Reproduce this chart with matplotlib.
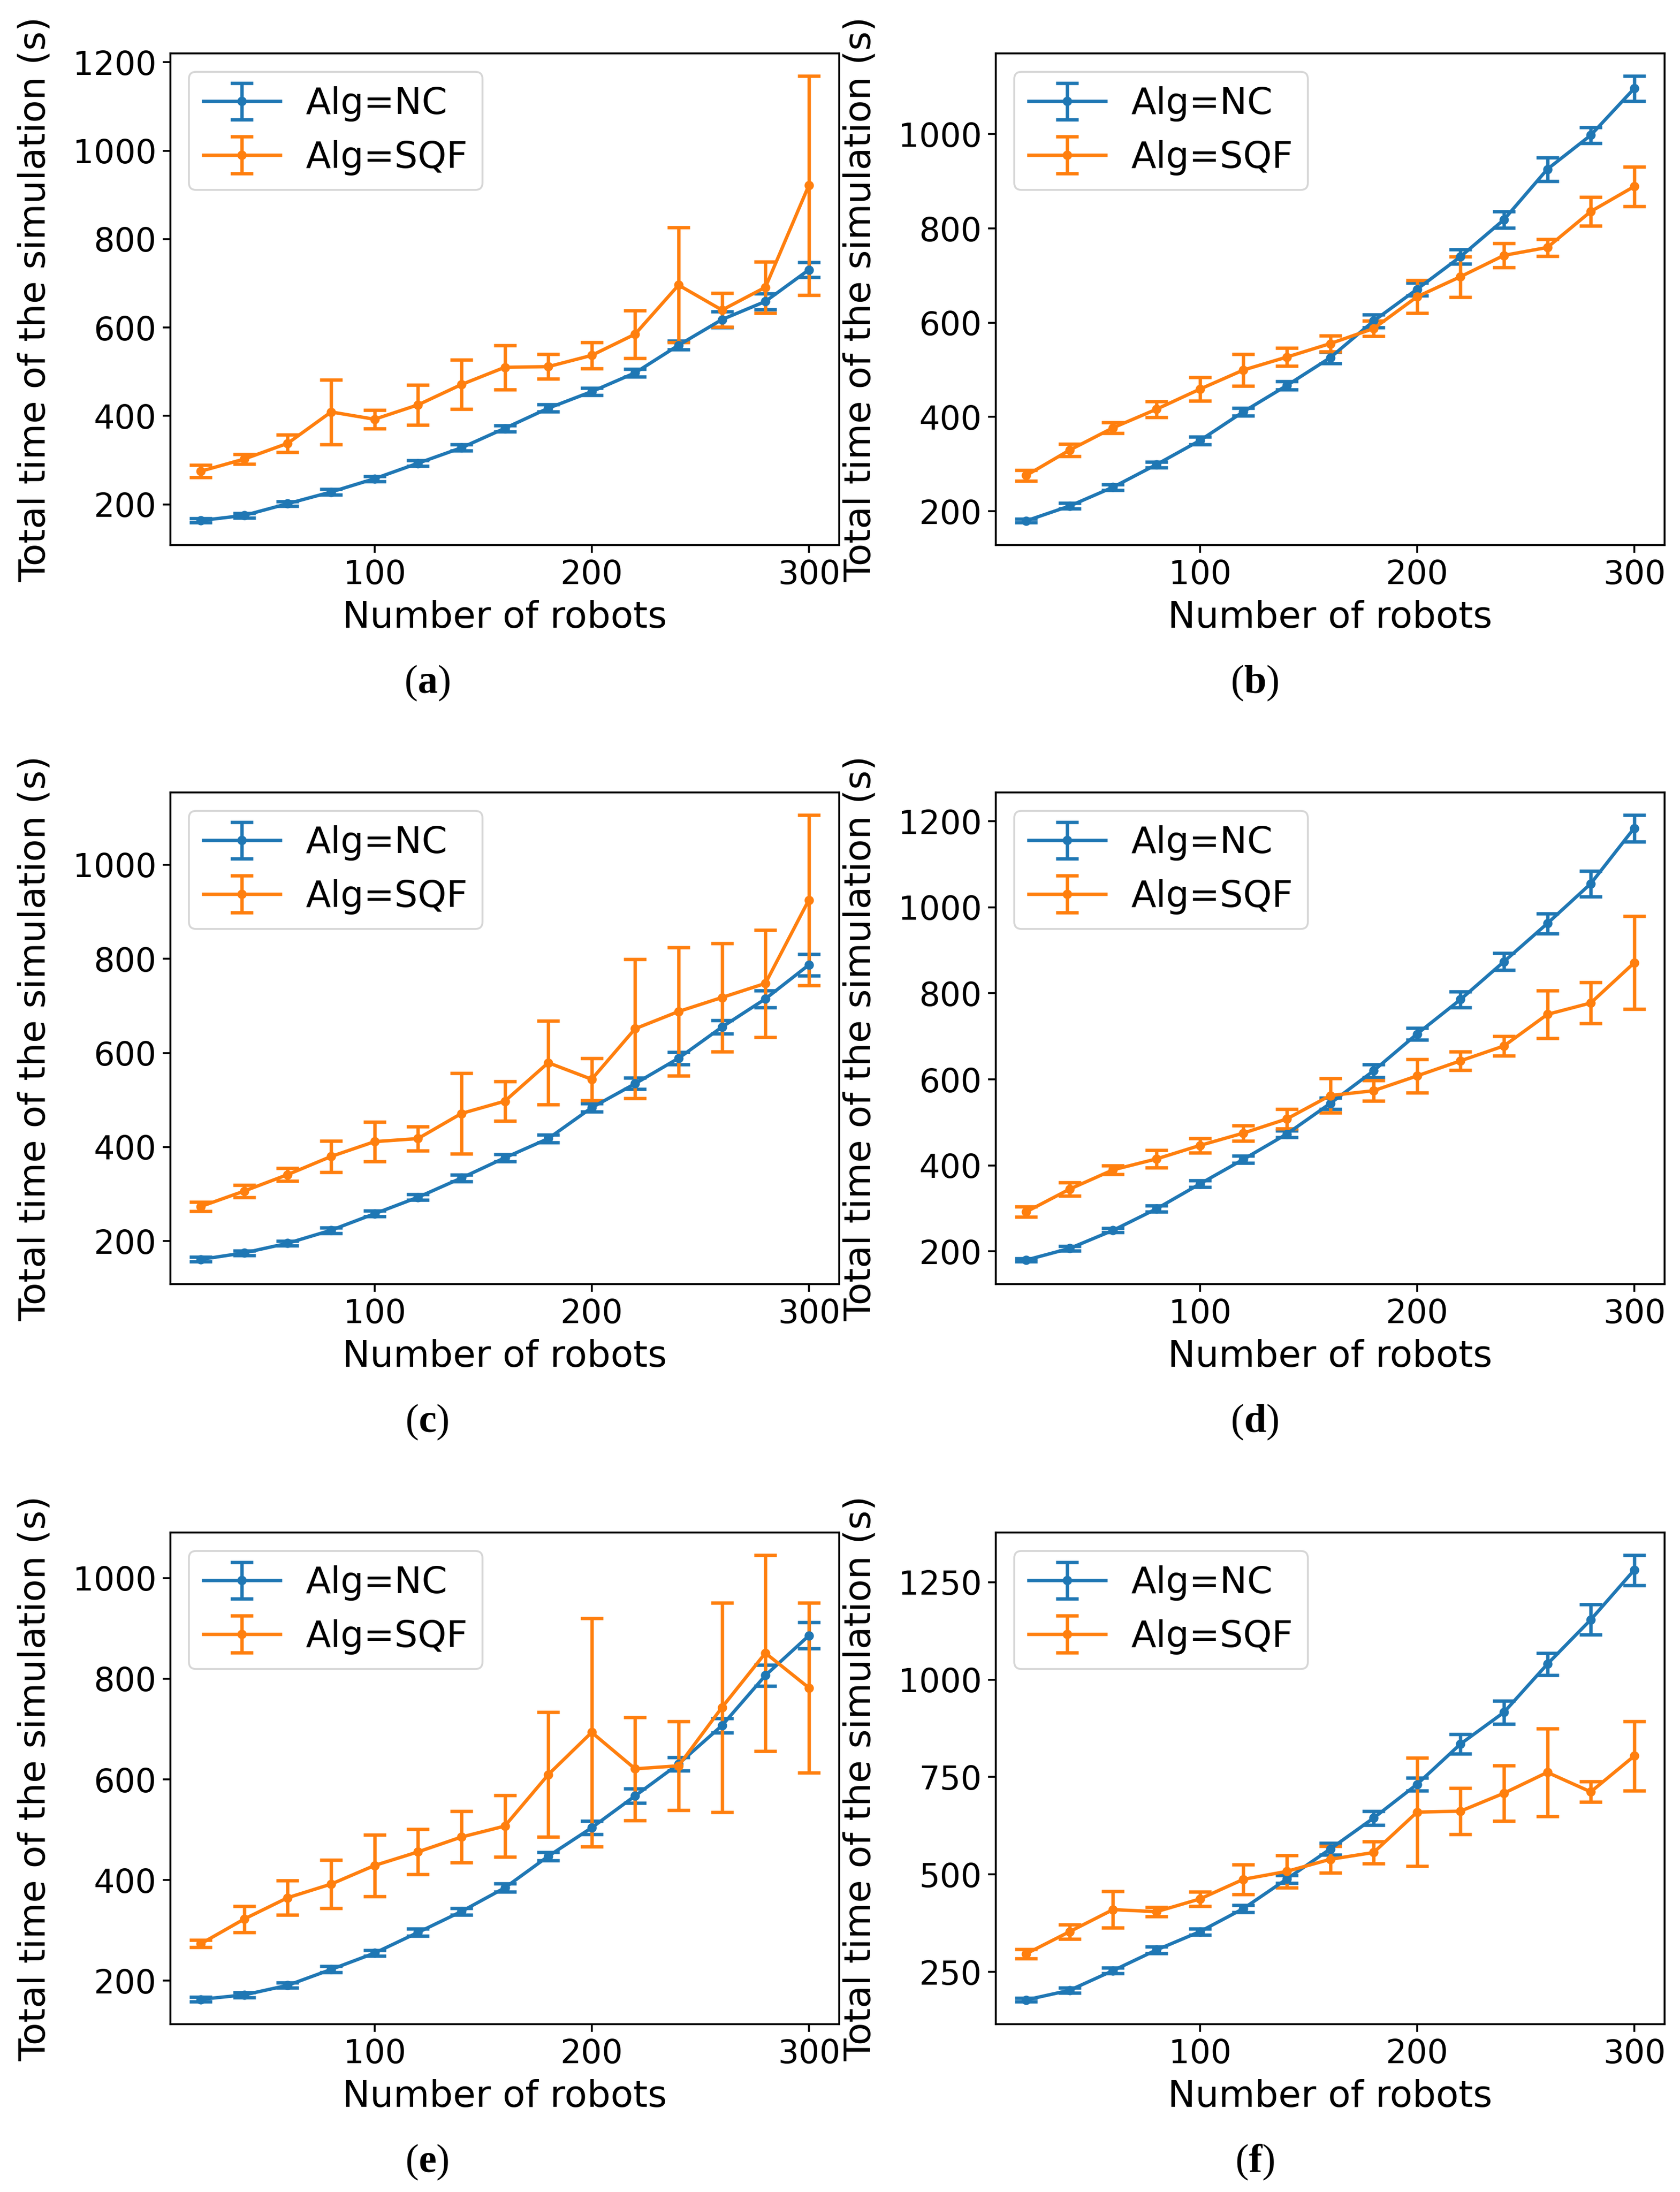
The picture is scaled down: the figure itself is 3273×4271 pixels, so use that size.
import matplotlib
matplotlib.use("Agg")
import matplotlib.pyplot as plt

x_robots = [20, 40, 60, 80, 100, 120, 140, 160, 180, 200, 220, 240, 260, 280, 300]

a_nc = [163.5, 175, 201.5, 228, 258, 293, 328, 372, 417.5, 455, 497.5, 560, 618, 659, 730.5]
a_nc_err = [5, 5, 5, 6, 6, 6, 7, 7, 8, 8, 9, 10, 18, 18, 17]
a_sqf = [275, 302.5, 338, 409, 392.5, 425, 471, 510, 511.5, 537, 585, 696, 639.5, 691, 921.5]
a_sqf_err = [14, 11, 20, 73, 21, 45, 56, 50, 28, 30, 54, 130, 38, 58, 248]

b_nc = [179.6, 211, 251, 299, 350, 411, 466.7, 525.7, 603.6, 671, 740, 818.6, 925.7, 997.8, 1097]
b_nc_err = [4, 6, 6, 6, 8, 8, 9, 12, 14, 14, 15, 17, 25, 17, 27]
b_sqf = [275.8, 329.7, 377, 416.4, 459, 499.5, 527, 555.6, 587.6, 655, 697.6, 742.8, 759.6, 836, 889]
b_sqf_err = [11, 13, 11, 17, 25, 34, 19, 17, 16, 35, 43, 26, 18, 31, 42]

c_nc = [161.3, 175.2, 195.6, 223.3, 258.3, 293.3, 334.2, 377.2, 418, 483.7, 534.7, 588.7, 655, 714.9, 787]
c_nc_err = [5, 5, 5, 6, 6, 6, 7, 8, 8, 9, 12, 13, 14, 18, 23]
c_sqf = [273.7, 306.5, 341.5, 380, 411.5, 418, 471.3, 497.5, 579.2, 544, 651.4, 688, 717.8, 747.7, 925]
c_sqf_err = [10, 13, 14, 33, 42, 25.5, 86, 42, 89, 45, 148, 136, 115, 114, 181]

d_nc = [180, 207, 249, 299, 357, 414, 473, 544, 620, 705.6, 785.6, 873.6, 962.4, 1055, 1184]
d_nc_err = [4, 5, 5, 7, 8, 8, 8, 13, 15, 14, 18, 20, 23, 30, 31]
d_sqf = [292, 344.8, 389.6, 415, 446.4, 475, 508, 562.4, 573.6, 608, 643, 677.6, 751, 777.6, 871]
d_sqf_err = [12, 16, 10, 20, 17, 18, 23, 40, 24, 39, 22, 23, 55, 48, 108]

e_nc = [163.2, 172, 191, 222.5, 255, 296, 337.6, 384.7, 447.4, 504, 567.3, 630.7, 707, 806.5, 885.5]
e_nc_err = [5, 5, 5, 6, 6, 7, 7, 8, 8, 13, 14, 13, 14, 21, 26]
e_sqf = [273.6, 322.7, 365, 392, 429, 456, 485.5, 507.3, 609.5, 693.4, 621, 627, 743, 851, 782]
e_sqf_err = [7, 26, 34, 48, 61, 45, 51, 61, 124, 227, 102, 88, 208, 195, 169]

f_nc = [178.4, 203, 253.5, 306.5, 353.4, 412.5, 488.5, 565.4, 645, 731.5, 834.8, 916, 1039.8, 1153.7, 1281]
f_nc_err = [5, 7, 7, 9, 8, 9, 10, 15, 18, 17, 25, 30, 28, 39, 39]
f_sqf = [296.8, 353.4, 410, 404.6, 437.3, 487.6, 508, 539, 556.5, 660, 662.5, 708.5, 762, 712, 804]
f_sqf_err = [12, 18.5, 47, 12, 19, 38, 41.5, 34, 28, 139, 59, 71.5, 113, 26.5, 89]

panel_labels = ["a", "b", "c", "d", "e", "f"]
series_labels = ["Alg=NC", "Alg=SQF"]
x_ticks = [100, 200, 300]
y_ticks = [
    [200, 400, 600, 800, 1000, 1200],
    [200, 400, 600, 800, 1000],
    [200, 400, 600, 800, 1000],
    [200, 400, 600, 800, 1000, 1200],
    [200, 400, 600, 800, 1000],
    [250, 500, 750, 1000, 1250],
]
panels = [
    (a_nc, a_nc_err, a_sqf, a_sqf_err),
    (b_nc, b_nc_err, b_sqf, b_sqf_err),
    (c_nc, c_nc_err, c_sqf, c_sqf_err),
    (d_nc, d_nc_err, d_sqf, d_sqf_err),
    (e_nc, e_nc_err, e_sqf, e_sqf_err),
    (f_nc, f_nc_err, f_sqf, f_sqf_err),
]

plt.rcParams["font.family"] = ["DejaVu Sans"]
plt.rcParams["mathtext.fontset"] = "custom"
plt.rcParams["mathtext.rm"] = "Liberation Serif"
plt.rcParams["mathtext.bf"] = "Liberation Serif:bold"

W, H = 3273, 4271
DPI = 262
fig = plt.figure(figsize=(W / DPI, H / DPI), dpi=DPI)

col_left = [332, 1940]
ax_w = 1303
row_top = [104, 1544, 2986]
ax_h = 958
cap_x = [832, 2444]
cap_y = [1331, 2771, 4213]

TICK_FS = 17.6
LABEL_FS = 19.8
LEG_FS = 19.6

for i, (nc, nc_err, sqf, sqf_err) in enumerate(panels):
    r, c = divmod(i, 2)
    left = col_left[c] / W
    bottom = (H - row_top[r] - ax_h) / H
    ax = fig.add_axes([left, bottom, ax_w / W, ax_h / H])
    for sp in ax.spines.values():
        sp.set_linewidth(1.0)
    ax.errorbar(x_robots, nc, yerr=nc_err, fmt=".-", color="#1f77b4", capsize=6,
                markersize=8, linewidth=1.8, capthick=1.8, label=series_labels[0])
    ax.errorbar(x_robots, sqf, yerr=sqf_err, fmt=".-", color="#ff7f0e", capsize=6,
                markersize=8, linewidth=1.8, capthick=1.8, label=series_labels[1])
    ax.set_xticks(x_ticks)
    ax.set_yticks(y_ticks[i])
    ax.tick_params(labelsize=TICK_FS, width=1.0, length=4)
    ax.set_xlabel("Number of robots", fontsize=LABEL_FS, labelpad=5)
    ax.set_ylabel("Total time of the simulation (s)", fontsize=LABEL_FS)
    ax.yaxis.set_label_coords(-0.176, 0.5)
    ax.legend(loc="upper left", fontsize=LEG_FS, handlelength=2.1, handletextpad=0.7)
    fig.text(cap_x[c] / W, 1 - cap_y[r] / H, r"($\mathbf{" + panel_labels[i] + r"}$)",
             ha="center", va="center", fontsize=21.5, family="Liberation Serif")

fig.savefig("out.png", dpi=DPI)
